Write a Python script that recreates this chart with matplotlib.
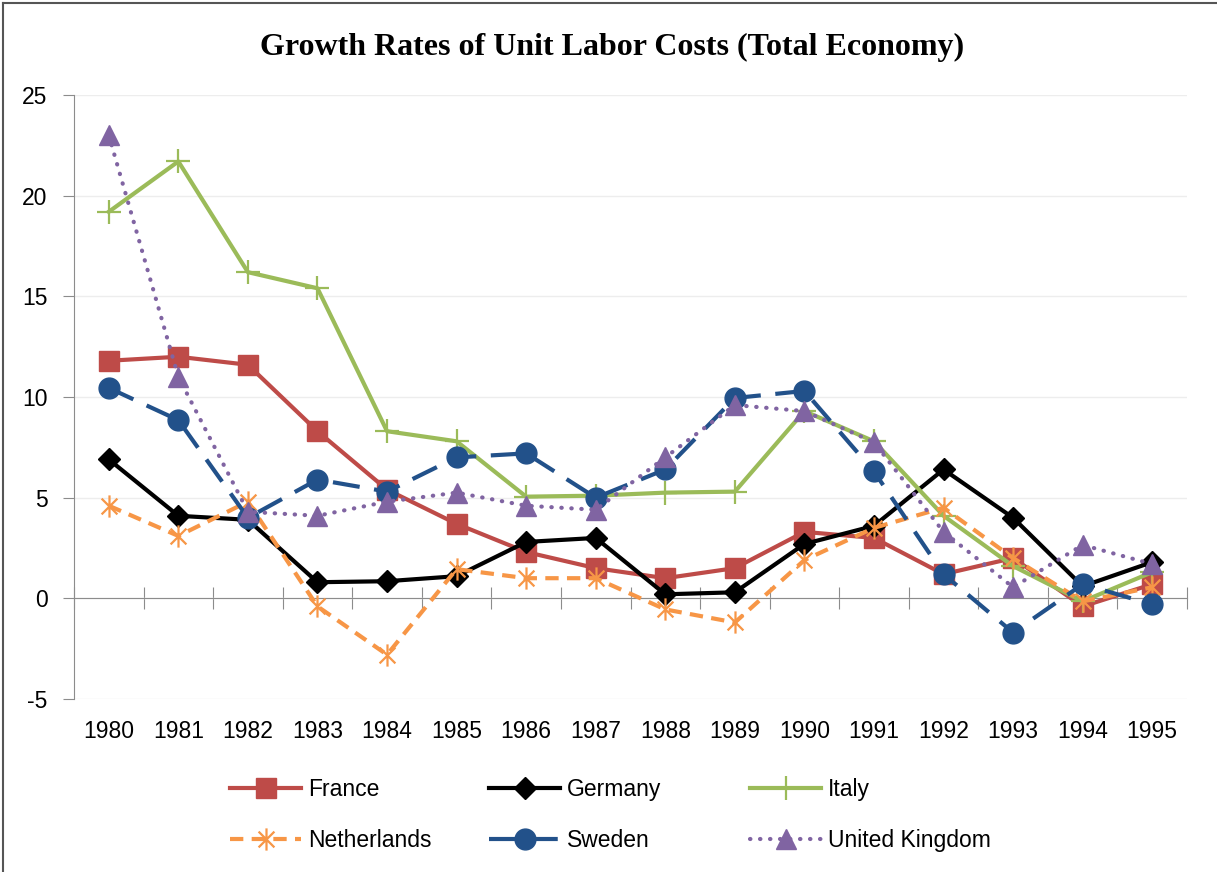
import numpy as np
import matplotlib
matplotlib.use('Agg')
import matplotlib.pyplot as plt
from matplotlib.lines import Line2D
from matplotlib.path import Path

plt.rcParams['font.family'] = ['Liberation Sans', 'DejaVu Sans']

# 데이터
years = [str(y) for y in range(1980, 1996)]
france = [11.8, 12.0, 11.6, 8.3, 5.4, 3.7, 2.3, 1.5, 1.0, 1.5, 3.3, 3.0, 1.2, 2.0, -0.4, 0.7]
germany = [6.9, 4.1, 3.9, 0.8, 0.85, 1.1, 2.8, 3.0, 0.2, 0.3, 2.7, 3.6, 6.4, 4.0, 0.6, 1.8]
italy = [19.2, 21.7, 16.2, 15.4, 8.3, 7.8, 5.05, 5.1, 5.25, 5.3, 9.3, 7.8, 4.1, 1.6, -0.15, 1.3]
netherlands = [4.6, 3.1, 4.8, -0.4, -2.8, 1.45, 1.0, 1.0, -0.55, -1.2, 1.9, 3.5, 4.5, 2.0, -0.15, 0.55]
sweden = [10.45, 8.85, 4.0, 5.9, 5.3, 7.0, 7.2, 5.0, 6.4, 9.95, 10.3, 6.3, 1.2, -1.7, 0.7, -0.3]
uk = [23.0, 11.0, 4.3, 4.1, 4.8, 5.25, 4.6, 4.4, 7.0, 9.6, 9.3, 7.75, 3.3, 0.55, 2.65, 1.7]
y_ticks = [-5, 0, 5, 10, 15, 20, 25]

fig = plt.figure(figsize=(12.17, 8.72), dpi=100)
W, H = 1217, 872
ax = fig.add_axes([74 / W, 1 - 699 / H, (1187 - 74) / W, (699 - 95) / H])
x = np.arange(len(years))

# 엑셀식 별표 마커 (세로줄 + X)
star = Path([(0, -1), (0, 1), (-0.71, -0.71), (0.71, 0.71), (-0.71, 0.71), (0.71, -0.71)],
            [Path.MOVETO, Path.LINETO, Path.MOVETO, Path.LINETO, Path.MOVETO, Path.LINETO])

lw = 3.0
series = [
    ('France', france, dict(color='#BE4B48', linestyle='-', marker='s', markersize=15)),
    ('Germany', germany, dict(color='black', linestyle='-', marker='D', markersize=11)),
    ('Italy', italy, dict(color='#9BBB59', linestyle='-', marker='+', markersize=17, markeredgewidth=1.6)),
    ('Netherlands', netherlands, dict(color='#F79646', linestyle=(0, (3.2, 2.0)), marker=star,
                                      markersize=16, markeredgewidth=1.6)),
    ('Sweden', sweden, dict(color='#22518A', linestyle=(0, (6.5, 3.5)), marker='o', markersize=15)),
    ('United Kingdom', uk, dict(color='#8064A2', linestyle=(0, (0.1, 2.3)), dash_capstyle='round',
                                marker='^', markersize=15)),
]

handles = []
for name, vals, st in series:
    ln, = ax.plot(x, vals, linewidth=lw, label=name, zorder=3, **st)
    handles.append(ln)

ax.set_xlim(-0.5, len(years) - 0.5)
ax.set_ylim(-5, 25)
ax.set_yticks(y_ticks)
ax.set_yticklabels([str(v) for v in y_ticks])
ax.yaxis.grid(True, color='#EDEDED', linewidth=1)
ax.set_axisbelow(True)
ax.tick_params(axis='y', length=8, color='#8C8C8C', labelsize=16.5, pad=11)

for s in ['top', 'right']:
    ax.spines[s].set_visible(False)
ax.spines['left'].set_color('#8C8C8C')
ax.spines['bottom'].set_position(('data', 0))
ax.spines['bottom'].set_color('#8C8C8C')
ax.set_xticks(np.arange(len(years) + 1) - 0.5)
ax.set_xticklabels([])
ax.tick_params(axis='x', direction='inout', length=16, color='#8C8C8C')

# 연도 라벨은 아래쪽에
sec = ax.secondary_xaxis('bottom')
sec.set_xticks(x)
sec.set_xticklabels(years)
sec.tick_params(length=0, labelsize=16.5, pad=15)
sec.spines['bottom'].set_visible(False)

fig.text(0.503, 1 - 55 / H, 'Growth Rates of Unit Labor Costs (Total Economy)',
         ha='center', va='baseline', fontsize=23, fontweight='bold', family='Liberation Serif')

# 범례 (열마다 따로)
col_x = [230, 489, 750]
for i in range(3):
    leg = fig.legend([handles[i], handles[i + 3]], [handles[i].get_label(), handles[i + 3].get_label()],
                     loc='center left', bbox_to_anchor=(col_x[i] / W, 1 - 815 / H),
                     frameon=False, fontsize=16.5, handlelength=3.1, handletextpad=0.3,
                     labelspacing=1.19, borderpad=0, borderaxespad=0, numpoints=1)

# 테두리
fig.add_artist(Line2D([3 / W, 3 / W], [0, 1 - 3 / H], color='#555555', linewidth=1.5))
fig.add_artist(Line2D([3 / W, 1], [1 - 3 / H, 1 - 3 / H], color='#555555', linewidth=1.5))

fig.savefig('out.png', dpi=100)
